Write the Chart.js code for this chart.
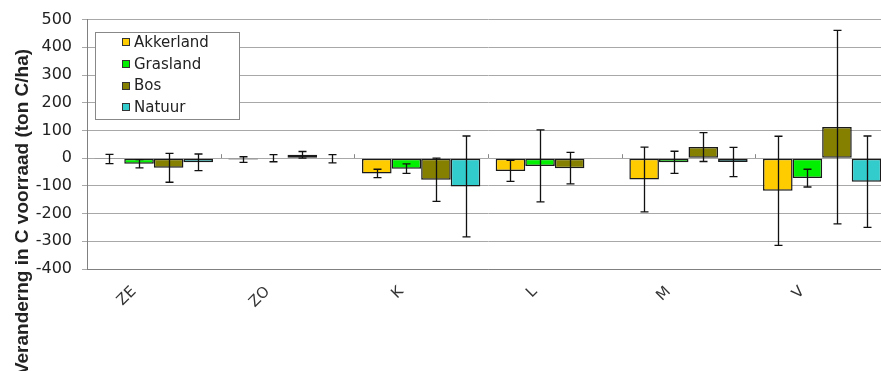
<!DOCTYPE html>
<html>
<head>
<meta charset="utf-8">
<script src="https://cdn.jsdelivr.net/npm/chart.js@4"></script>
<style>
  html, body { margin: 0; padding: 0; background: #fff; overflow: hidden; }
  #wrap { position: relative; width: 889px; height: 371px; }
</style>
</head>
<body>
<div id="wrap"><canvas id="chart"></canvas></div>
<script>
// regions on the x axis
const regions = ['ZE', 'ZO', 'K', 'L', 'M', 'V'];

// mean change per land use (ton C/ha)
const akkerland = [-3, -5, -55, -46, -77, -118];
const grasland  = [-20, 0, -38, -28, -15, -72];
const bos       = [-35, 12, -78, -36, 40, 112];
const natuur    = [-15, -2, -102, null, -14, -85];

// half width of the error bars
const akkerlandErr = [17, 10, 15, 38, 117, 197];
const graslandErr  = [15, 13, 17, 130, 40, 32];
const bosErr       = [52, 12, 78, 57, 52, 349];
const natuurErr    = [30, 15, 182, null, 53, 165];

const yTicks = [500, 400, 300, 200, 100, 0, -100, -200, -300, -400];
const yTitle = 'Veranderng in C voorraad (ton C/ha)';

const series = [
    { label: 'Akkerland', data: akkerland, err: akkerlandErr, color: '#ffcc00' },
    { label: 'Grasland',  data: grasland,  err: graslandErr,  color: '#00f000' },
    { label: 'Bos',       data: bos,       err: bosErr,       color: '#858000' },
    { label: 'Natuur',    data: natuur,    err: natuurErr,    color: '#33cccc' }
];

// error bars + the small category ticks on the zero line
const errorBars = {
    id: 'errorBars',
    afterDatasetsDraw(chart) {
        const ctx = chart.ctx;
        const y = chart.scales.y;
        const x = chart.scales.x;
        ctx.save();
        ctx.strokeStyle = '#888';
        ctx.lineWidth = 1;
        for (let i = 0; i < regions.length - 1; i++) {
            const bx = Math.round((x.getPixelForTick(i) + x.getPixelForTick(i + 1)) / 2) + 0.5;
            const zy = y.getPixelForValue(0);
            ctx.beginPath();
            ctx.moveTo(bx, zy - 4);
            ctx.lineTo(bx, zy);
            ctx.stroke();
        }
        ctx.strokeStyle = '#111';
        ctx.lineWidth = 1.3;
        chart.data.datasets.forEach((ds, di) => {
            const meta = chart.getDatasetMeta(di);
            meta.data.forEach((bar, i) => {
                const v = ds.data[i];
                const e = series[di].err[i];
                if (v === null || e === null) return;
                const top = y.getPixelForValue(v + e);
                const bot = y.getPixelForValue(v - e);
                const cx = Math.round(bar.x) + 0.5;
                ctx.beginPath();
                ctx.moveTo(cx, top);
                ctx.lineTo(cx, bot);
                ctx.moveTo(cx - 4, top);
                ctx.lineTo(cx + 4, top);
                ctx.moveTo(cx - 4, bot);
                ctx.lineTo(cx + 4, bot);
                ctx.stroke();
            });
        });
        ctx.restore();
    }
};

// boxed legend inside the plot, top left
const boxLegend = {
    id: 'boxLegend',
    afterDraw(chart) {
        const ctx = chart.ctx;
        ctx.save();
        ctx.fillStyle = '#fff';
        ctx.fillRect(95, 32, 144, 87);
        ctx.strokeStyle = '#888';
        ctx.lineWidth = 1;
        ctx.strokeRect(95.5, 32.5, 144, 87);
        ctx.font = '15px "DejaVu Sans"';
        ctx.textBaseline = 'middle';
        series.forEach((s, i) => {
            const cy = 42 + i * 21.8;
            ctx.fillStyle = s.color;
            ctx.fillRect(122, Math.round(cy) - 4, 8, 8);
            ctx.strokeStyle = '#333';
            ctx.strokeRect(122.5, Math.round(cy) - 3.5, 7, 7);
            ctx.fillStyle = '#222';
            ctx.fillText(s.label, 134, cy + 1);
        });
        ctx.restore();
    }
};

// rotated y title, placed like the original
const sideTitle = {
    id: 'sideTitle',
    afterDraw(chart) {
        const ctx = chart.ctx;
        ctx.save();
        ctx.translate(28, 212);
        ctx.rotate(-Math.PI / 2);
        ctx.font = 'bold 19px "Liberation Sans"';
        ctx.fillStyle = '#222';
        ctx.textAlign = 'center';
        ctx.textBaseline = 'alphabetic';
        ctx.fillText(yTitle, 0, 0);
        ctx.restore();
    }
};

new Chart(document.getElementById('chart'), {
    type: 'bar',
    data: {
        labels: regions,
        datasets: series.map(s => ({
            label: s.label,
            data: s.data,
            backgroundColor: s.color,
            borderColor: '#1a1a1a',
            borderWidth: 1.5,
            borderSkipped: false,
            categoryPercentage: 0.885,
            barPercentage: 1.0
        }))
    },
    options: {
        responsive: true,
        maintainAspectRatio: false,
        animation: false,
        layout: { padding: { top: 18, left: 0, right: 0, bottom: 0 } },
        plugins: {
            legend: { display: false },
            tooltip: { enabled: false }
        },
        scales: {
            x: {
                grid: { display: false, drawTicks: false },
                border: { display: true, color: '#808080', width: 1 },
                ticks: {
                    color: '#333',
                    font: { family: 'DejaVu Sans', size: 15 },
                    minRotation: 45,
                    maxRotation: 45,
                    padding: 14,
                    labelOffset: -20
                },
                afterFit(s) { s.height = 102; }
            },
            y: {
                min: -400,
                max: 500,
                afterBuildTicks(s) { s.ticks = yTicks.map(v => ({ value: v })); },
                grid: { color: '#a8a8a8', tickLength: 5 },
                border: { display: true, color: '#808080', width: 1 },
                ticks: {
                    color: '#222',
                    font: { family: 'DejaVu Sans', size: 16 },
                    padding: 10
                },
                afterFit(s) { s.width = 87; }
            }
        }
    },
    plugins: [errorBars, boxLegend, sideTitle]
});
</script>
</body>
</html>
